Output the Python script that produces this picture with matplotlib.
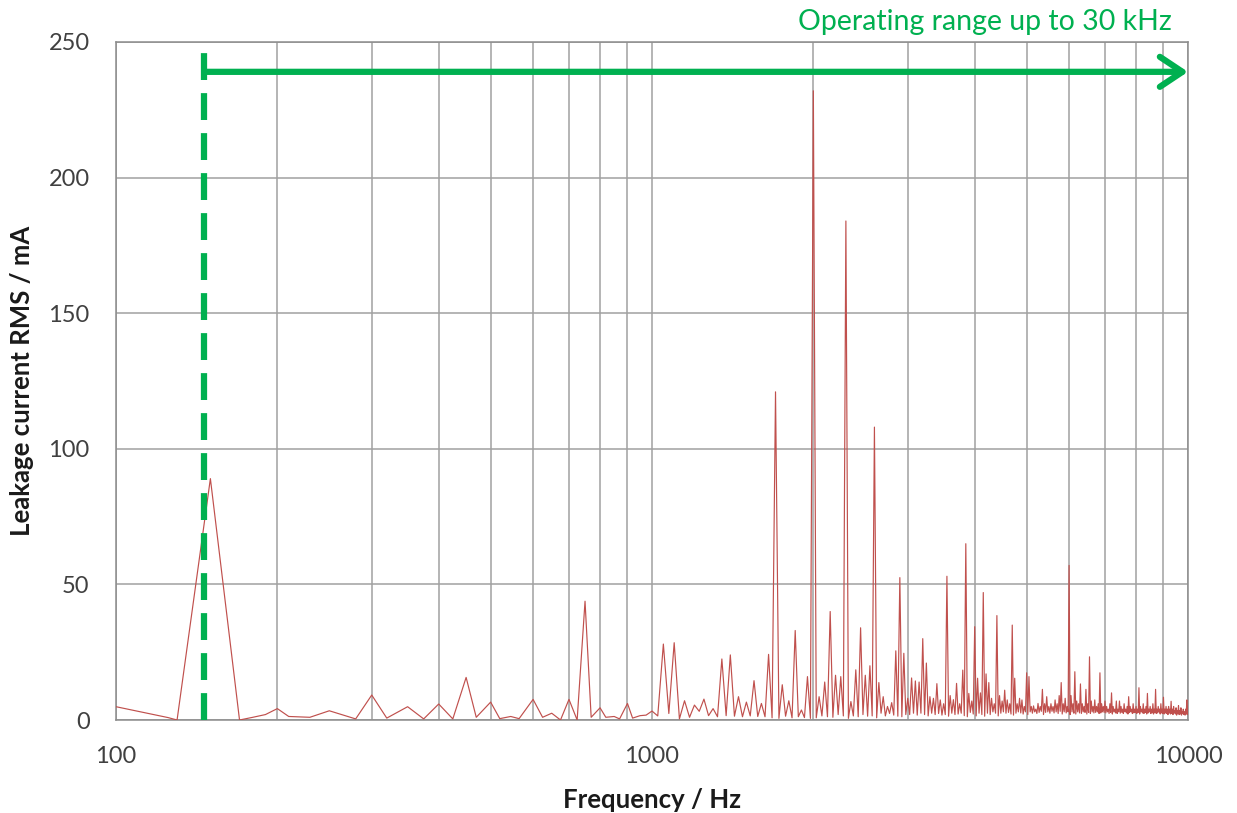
import numpy as np
import matplotlib.pyplot as plt
from matplotlib.ticker import LogLocator, NullFormatter

plt.rcParams['font.family'] = ['Lato', 'DejaVu Sans']

# low band, read point by point (Hz, mA)
low_f = [100, 125, 130, 150, 170, 180, 190, 200, 210, 230, 250, 280, 300, 320,
         350, 375, 400, 425, 450, 470, 500, 520, 545, 565, 600, 625, 650, 675,
         700, 725, 750, 770, 800, 820, 850, 870, 900, 920, 950, 975]
low_v = [4.9, 0.9, 0, 89, 0, 1, 2, 4.2, 1.3, 1, 3.4, 0.4, 9.2, 0.7,
         4.9, 0.4, 5.9, 0.4, 15.7, 1, 6.6, 0.5, 1.3, 0.5, 7.6, 1, 2.5, 0,
         7.6, 0, 43.8, 1, 4.5, 1, 1.3, 0.4, 6.1, 0.7, 1.6, 1.8]

# 50 Hz harmonics from 1000 Hz to 10000 Hz
harm_v = [
    3.3, 28, 28.5, 7.1, 5.5, 7.7, 4.2, 22.5, 24, 8.6, 6.6, 14.5, 6.1, 24.2, 121, 13, 7.1, 33, 3.7, 16,
    232, 8.6, 14, 40, 16.5, 16, 184, 6.8, 18.5, 34, 16.5, 20, 108, 13.8, 8.6, 5, 6.4, 25.5, 52.5, 24.6,
    8, 15.5, 14.4, 14, 30, 21, 8.6, 8, 13.4, 7.4, 6, 53, 9, 7.5, 13.5, 6, 18.4, 65, 9.8, 7,
    34.4, 15.4, 10, 47, 17, 13.8, 8, 6, 38.5, 9, 7, 11, 7.4, 6, 35, 15.4, 6, 8, 7.4, 5,
    17.4, 16, 5, 5.2, 4, 6.1, 5, 11.3, 6, 8.6, 5, 6, 5, 7.4, 6, 9, 13.8, 6, 8, 5,
    57, 9, 6, 17.8, 7, 6, 13.3, 6, 5, 11.3, 6, 23.3, 7, 5, 7.4, 5, 6, 17.4, 6, 5,
    7, 5, 4, 6, 10, 5, 4, 7, 4, 7, 5, 4, 6, 4, 5, 8.6, 5, 4, 6, 4,
    5, 4, 11.9, 5, 4, 6, 4, 5, 9.8, 4, 5, 4, 6, 4, 11.3, 4, 5, 4, 6, 4,
    8.4, 4, 5, 4, 5, 4, 6.9, 4, 5, 3.5, 4.5, 3.5, 5.3, 3.5, 4.5, 3, 4, 3, 4, 7.4,
    5]

# floor between harmonics (1025 Hz ... 9975 Hz)
trough_v = [
    1.5, 2.4, 0.4, 1, 3.2, 1.6, 1.2, 1.6, 1.4, 1.2, 1.5, 1.3, 1.2, 0.8, 0.6, 1.4, 0.8, 1.2, 0.9, 0.6,
    0.8, 1.5, 1.2, 1, 2, 1.5, 0.6, 1.5, 1.2, 2, 1.4, 1.5, 0.8, 2.5, 1.5, 2.4, 1.8, 1.4, 1.2, 2,
    2, 2.5, 1.8, 2.5, 2, 1.5, 2.5, 2, 2.4, 1.8, 2, 1.4, 2.5, 2, 2.2, 2.5, 1.6, 1.2, 2.8, 2.2,
    1.5, 2.5, 2, 1.4, 2.5, 2, 3, 2.5, 1.5, 2.5, 3, 2.5, 2.8, 2.2, 1.8, 2.5, 3, 2.6, 2.2, 3,
    2, 3, 2.5, 3, 2.4, 2.8, 3.2, 2, 2.8, 3, 2.5, 3.2, 2.6, 3, 2.4, 3.2, 2.2, 3, 2.6, 3,
    2, 3, 2.5, 2.2, 3, 2.6, 2.4, 3, 2.8, 2.2, 2.8, 2.4, 3, 2.6, 2.8, 3, 2.4, 2.6, 3, 2.8,
    2.6, 3, 2.4, 2.8, 2.2, 3, 2.6, 2.4, 3, 2.5, 2.8, 2.4, 3, 2.6, 2.2, 2.8, 3, 2.4, 2.6, 2.8,
    2.4, 2.8, 2.2, 3, 2.6, 2.4, 2.8, 2.2, 2.6, 3, 2.4, 2.6, 2.2, 2.8, 2.4, 2.6, 3, 2.2, 2.6, 2.4,
    2.2, 2.6, 2.4, 2, 2.6, 2.2, 2.4, 2, 2.6, 2.2, 1.8, 2.4, 2, 2.2, 1.8, 2.4, 2, 1.8, 2.2, 2]

op_start = 146      # Hz, start of operating range
arrow_level = 239   # mA
note = 'Operating range up to 30 kHz'

harm_f = np.arange(1000, 10001, 50)
trough_f = harm_f[:-1] + 25
f = np.concatenate([low_f, harm_f, trough_f])
v = np.concatenate([low_v, harm_v, trough_v])
order = np.argsort(f)
f, v = f[order], v[order]

green = '#00B050'
grid_c = '#A0A0A0'
txt_c = '#404040'

fig = plt.figure(figsize=(12.37, 8.13), dpi=100)
ax = fig.add_axes([116/1237, 1 - 720/813, (1188 - 116)/1237, (720 - 42)/813])

ax.plot(f, v, color='#C0504D', lw=0.85, zorder=3)

ax.set_xscale('log')
ax.set_xlim(100, 10000)
ax.set_ylim(0, 250)
ax.set_xticks([100, 1000, 10000], labels=['100', '1000', '10000'])
ax.xaxis.set_minor_locator(LogLocator(base=10, subs=np.arange(2, 10)))
ax.xaxis.set_minor_formatter(NullFormatter())
ax.set_yticks(np.arange(0, 251, 50))
ax.grid(True, which='both', color=grid_c, lw=1.1, zorder=0)
ax.tick_params(which='both', length=0, labelsize=17, labelcolor=txt_c)
ax.tick_params(axis='y', pad=19)
ax.tick_params(axis='x', pad=19)
for s in ax.spines.values():
    s.set_color('#8C8C8C')
    s.set_linewidth(1.1)

ax.set_xlabel('Frequency / Hz', fontsize=18.5, fontweight='bold', color='#1a1a1a', labelpad=15)
ax.set_ylabel('Leakage current RMS / mA', fontsize=18.5, fontweight='bold', color='#1a1a1a', labelpad=10)

# operating range markers
ax.plot([op_start, op_start], [0, 250], color=green, lw=4.5,
        ls=(0, (4.3, 2.1)), zorder=4, clip_on=False)
ax.annotate('', xy=(10000, arrow_level), xytext=(op_start, arrow_level),
            arrowprops=dict(arrowstyle='->, head_length=0.6, head_width=0.4',
                            color=green, lw=4.5, mutation_scale=27,
                            shrinkA=0, shrinkB=0),
            zorder=5, annotation_clip=False)
fig.text(985/1237, 1 - 22/813, note, color=green, fontsize=20.5,
         ha='center', va='center')

plt.savefig('out.png', dpi=100)
